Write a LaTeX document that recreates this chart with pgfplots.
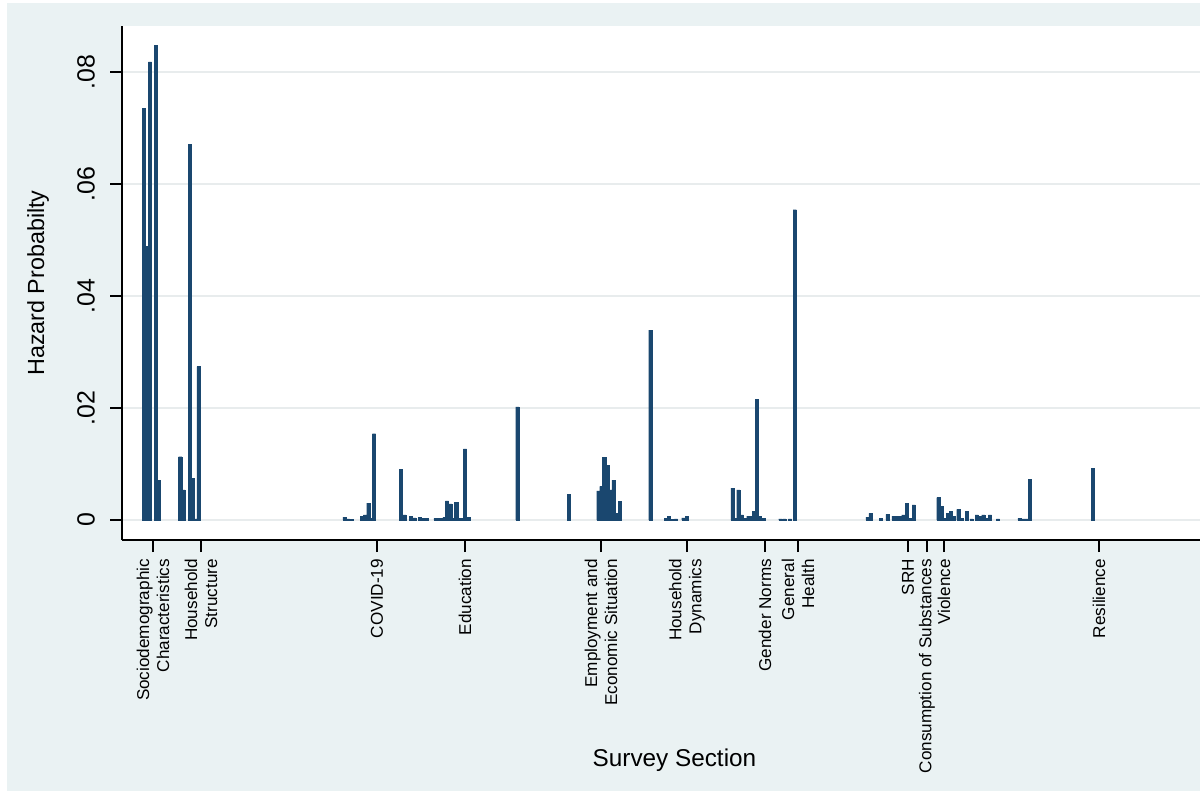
\documentclass[border=0pt]{standalone}
\usepackage{pgfplots}
\usepackage{pgfplotstable}
\pgfplotsset{compat=1.18}
\usepackage{fontspec}
\setmainfont{Liberation Sans}
\definecolor{stbg}{RGB}{234,242,243}
\definecolor{stnavy}{RGB}{26,71,111}
\definecolor{stgrid}{RGB}{232,236,237}

\pgfplotstableread{
x y
144.0 0.0735
146.9 0.0488
149.9 0.0818
156.0 0.0848
159.0 0.0071
180.2 0.0113
183.3 0.0054
189.7 0.0671
192.7 0.0074
195.6 0.0002
198.5 0.0274
344.5 0.0005
348.0 0.0002
351.5 0.0001
362.0 0.0006
365.0 0.0009
368.3 0.0030
371.0 0.0003
373.9 0.0154
401.0 0.0091
404.3 0.0009
411.0 0.0006
414.3 0.0004
420.0 0.0005
423.3 0.0003
426.3 0.0003
435.5 0.0003
438.8 0.0003
442.0 0.0003
444.5 0.0005
447.0 0.0034
450.3 0.0029
453.0 0.0003
456.2 0.0031
459.5 0.0003
462.0 0.0003
465.0 0.0127
468.3 0.0005
517.3 0.0202
568.7 0.0046
598.3 0.0052
601.3 0.0060
604.2 0.0112
607.2 0.0098
610.2 0.0054
613.5 0.0071
616.8 0.0012
620.0 0.0033
650.3 0.0339
666.0 0.0003
668.8 0.0007
671.5 0.0001
676.0 0.0002
683.3 0.0004
687.0 0.0007
732.5 0.0057
735.5 0.0003
738.3 0.0054
741.7 0.0009
745.0 0.0003
748.3 0.0007
751.5 0.0006
754.0 0.0015
756.8 0.0215
760.0 0.0006
763.3 0.0003
780.3 0.0002
784.3 0.0002
790.0 0.0002
794.7 0.0554
867.5 0.0005
870.5 0.0012
881.0 0.0003
887.5 0.0010
893.5 0.0007
897.0 0.0006
900.0 0.0006
903.3 0.0009
906.7 0.0030
910.0 0.0003
913.8 0.0027
938.3 0.0040
941.7 0.0024
945.0 0.0003
948.0 0.0012
951.0 0.0015
954.0 0.0006
958.3 0.0019
961.5 0.0003
966.7 0.0016
971.5 0.0002
976.7 0.0009
980.0 0.0006
983.3 0.0009
986.7 0.0003
990.0 0.0009
998.0 0.0002
1019.5 0.0003
1023.0 0.0002
1026.5 0.0002
1030.0 0.0073
1093.0 0.0092
}\bars

\begin{document}
\begin{tikzpicture}
\useasboundingbox (0,0) rectangle (600bp,395.5bp);
\fill[white] (0,0) rectangle (600bp,395.5bp);
\fill[stbg] (3.5bp,0) rectangle (600bp,394bp);
\begin{axis}[
  at={(61bp,125.5bp)}, anchor=south west,
  scale only axis, width=539bp, height=257bp,
  xmin=122, xmax=1200, ymin=-0.00357, ymax=0.0882,
  axis x line*=bottom, axis y line*=left,
  axis line style={black, line width=0.7bp, -},
  axis background/.style={fill=white},
  tick align=outside, major tick length=6bp,
  tick style={black, line width=0.6bp},
  ymajorgrids, grid style={stgrid, line width=1bp},
  scaled y ticks=false,
  ytick={0,0.02,0.04,0.06,0.08},
  yticklabels={0,.02,.04,.06,.08},
  yticklabel shift=4bp,
  yticklabel style={rotate=90, anchor=south, font=\fontsize{12.5}{14}\selectfont},
  xtick={153,201,377,465,601,687,765,798,908,927,944,1099},
  xticklabels={{Sociodemographic\\Characteristics},{Household\\Structure},{COVID-19},{Education},{Employment and\\Economic Situation},{Household\\Dynamics},{Gender Norms},{General\\Health},{SRH},{Consumption of Substances},{Violence},{Resilience}},
  xticklabel style={rotate=90, anchor=east, align=right, font=\fontsize{8.6}{10}\selectfont},
  xlabel={Survey Section},
  xlabel style={at={(axis description cs:0.5125,-0.428)}, anchor=center, font=\fontsize{12.2}{14}\selectfont},
  ylabel={Hazard Probabilty},
  ylabel style={at={(axis description cs:-0.0779,0.5)}, anchor=center, rotate=0, font=\fontsize{11.7}{14}\selectfont},
  clip=false,
]
\addplot[ybar, bar width=3.2, fill=stnavy, draw=stnavy, line width=0.2bp] table[x=x,y=y]{\bars};
\end{axis}
\end{tikzpicture}
\end{document}
